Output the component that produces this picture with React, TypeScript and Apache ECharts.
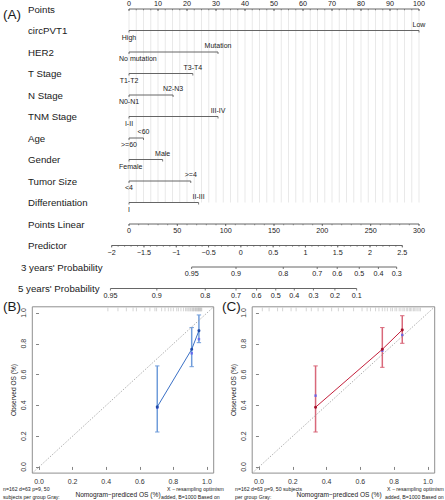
import React, { useEffect, useRef } from "react";
import * as echarts from "echarts";

// ---------------- DATA ----------------
const rowNames = [
  "Points", "circPVT1", "HER2", "T Stage", "N Stage", "TNM Stage", "Age", "Gender",
  "Tumor Size", "Differentiation", "Points Linear", "Predictor",
  "3 years' Probability", "5 years' Probability",
];
const factorLowLevels = ["High", "No mutation", "T1-T2", "N0-N1", "I-II", ">=60", "Female", "<4", "I"];
const factorHighLevels = ["Low", "Mutation", "T3-T4", "N2-N3", "III-IV", "<60", "Male", ">=4", "II-III"];
const factorHighPoints = [100, 30.7, 22, 15.2, 30.7, 5, 11.6, 21.3, 24];

const pointsTicks = [0, 10, 20, 30, 40, 50, 60, 70, 80, 90, 100];
const pointsLinearTicks = [0, 50, 100, 150, 200, 250, 300];
const pointsLinearMax = 300;
const predictorTicks = [-2, -1.5, -1, -0.5, 0, 0.5, 1, 1.5, 2, 2.5];
const predictorZeroAtPoints = 38.57;
const predictorPointsPerUnit = 22.27;
const prob3Labels = ["0.95", "0.9", "0.8", "0.7", "0.6", "0.5", "0.4", "0.3"];
const prob3AtPoints = [21.6, 36.9, 53.2, 64.9, 71.8, 79.4, 86.0, 92.3];
const prob5Labels = ["0.95", "0.9", "0.8", "0.7", "0.6", "0.5", "0.4", "0.3", "0.2", "0.1"];
const prob5AtPoints = [-6.4, 9.6, 26.3, 36.9, 44.0, 50.6, 57.0, 63.6, 71.0, 78.5];

const calTicks = [0, 0.2, 0.4, 0.6, 0.8, 1.0];
const calXTitle = "Nomogram\u2212prediced OS (%)";
const calYTitle = "Observed OS (%)";

const predB = [0.704, 0.909, 0.952];
const obsB = [0.39, 0.764, 0.885];
const lowB = [0.227, 0.651, 0.807];
const highB = [0.656, 0.905, 0.987];
const corrB = [0.385, 0.738, 0.83];
const rugB = [0.41, 0.47, 0.52, 0.56, 0.58, 0.63, 0.66, 0.69, 0.7, 0.73, 0.75, 0.77, 0.785, 0.8, 0.82, 0.83, 0.845,
  0.86, 0.872, 0.88, 0.887, 0.893, 0.9, 0.904, 0.911, 0.915, 0.92, 0.923, 0.929, 0.932, 0.936, 0.94, 0.942, 0.947,
  0.95, 0.952, 0.956, 0.959, 0.962, 0.966, 0.969];

const predC = [0.335, 0.73, 0.848];
const obsC = [0.388, 0.764, 0.89];
const lowC = [0.227, 0.647, 0.803];
const highC = [0.656, 0.905, 0.982];
const corrC = [0.463, 0.755, 0.857];
const rugC = [0.02, 0.06, 0.11, 0.14, 0.19, 0.22, 0.28, 0.31, 0.35, 0.38, 0.43, 0.47, 0.5, 0.56, 0.61, 0.64, 0.66,
  0.69, 0.71, 0.73, 0.745, 0.76, 0.78, 0.79, 0.805, 0.815, 0.83, 0.84, 0.852, 0.86, 0.872, 0.88, 0.89, 0.897, 0.905,
  0.915, 0.922, 0.93, 0.94, 0.948, 0.956];

// ---------------- LAYOUT / STYLE ----------------
const FONT = "'Liberation Sans', Arial, Helvetica, sans-serif";
const INK = "#1a1a1a";
const AXIS = "#555555";
const GRID_LINE = "#e3e3e3";

function fmtNum(v: number): string {
  const s = String(Math.abs(v));
  return v < 0 ? "\u2212" + s : s;
}

type NomoItem =
  | { kind: "grid" }
  | { kind: "rowLabel"; row: number; text: string }
  | { kind: "axis"; row: number; ticks: number[]; labels: string[]; minor: number[]; above: boolean }
  | { kind: "factor"; row: number; end: number; low: string; high: string };

function buildNomoItems(): NomoItem[] {
  const items: NomoItem[] = [{ kind: "grid" }];
  rowNames.forEach((t, i) => items.push({ kind: "rowLabel", row: i, text: t }));
  const ptsMinor: number[] = [];
  for (let p = 0; p <= 100; p += 2.5) ptsMinor.push(p);
  items.push({ kind: "axis", row: 0, ticks: pointsTicks, labels: pointsTicks.map(String), minor: ptsMinor, above: true });
  factorHighPoints.forEach((p, i) =>
    items.push({ kind: "factor", row: i + 1, end: p, low: factorLowLevels[i], high: factorHighLevels[i] })
  );
  const linMinor: number[] = [];
  for (let v = 0; v <= pointsLinearMax; v += 10) linMinor.push((v / pointsLinearMax) * 100);
  items.push({
    kind: "axis", row: 10,
    ticks: pointsLinearTicks.map((v) => (v / pointsLinearMax) * 100),
    labels: pointsLinearTicks.map(String), minor: linMinor, above: false,
  });
  const toPts = (v: number) => predictorZeroAtPoints + predictorPointsPerUnit * v;
  const predMinor: number[] = [];
  for (let k = -20; k <= 25; k++) predMinor.push(toPts(k / 10));
  items.push({ kind: "axis", row: 11, ticks: predictorTicks.map(toPts), labels: predictorTicks.map(fmtNum), minor: predMinor, above: false });
  items.push({ kind: "axis", row: 12, ticks: prob3AtPoints, labels: prob3Labels, minor: [], above: false });
  items.push({ kind: "axis", row: 13, ticks: prob5AtPoints, labels: prob5Labels, minor: [], above: false });
  return items;
}

const nomoItems = buildNomoItems();
const ROW_LABEL_X = [28, 28, 28, 28, 28, 28, 28, 28, 28, 28, 28, 28, 21, 18];

function txt(x: number, y: number, text: string, size: number, align = "center", vAlign = "middle") {
  return {
    type: "text", x, y, silent: true,
    style: { text, fill: INK, fontSize: size, fontFamily: FONT, align, verticalAlign: vAlign },
  };
}
function seg(x1: number, y1: number, x2: number, y2: number, color: string, w: number) {
  return { type: "line", silent: true, shape: { x1, y1, x2, y2 }, style: { stroke: color, lineWidth: w } };
}

function renderNomo(params: any, api: any) {
  const it = nomoItems[params.dataIndex];
  const X = (p: number) => api.coord([p, 0])[0];
  const Y = (r: number) => api.coord([0, r])[1];
  const children: any[] = [];
  if (it.kind === "grid") {
    for (let p = 0; p <= 100; p += 2.5) children.push(seg(X(p), Y(0), X(p), Y(9), GRID_LINE, 0.8));
  } else if (it.kind === "rowLabel") {
    children.push(txt(ROW_LABEL_X[it.row], Y(it.row), it.text, 9.7, "left"));
  } else if (it.kind === "axis") {
    const y = Y(it.row);
    const x0 = X(it.ticks[0]);
    const x1 = X(it.ticks[it.ticks.length - 1]);
    children.push(seg(x0, y, x1, y, AXIS, 0.9));
    it.minor.forEach((p) => children.push(seg(X(p), y, X(p), y + 1.3, AXIS, 0.6)));
    it.ticks.forEach((p, i) => {
      children.push(seg(X(p), y, X(p), y + 2, AXIS, 0.8));
      children.push(txt(X(p), it.above ? y - 6 : y + 6.6, it.labels[i], 7.2));
    });
  } else if (it.kind === "factor") {
    const y = Y(it.row);
    const xs = X(0);
    const xe = X(it.end);
    children.push(seg(xs, y, xe, y, AXIS, 0.9));
    children.push(seg(xs, y, xs, y + 2, AXIS, 0.8));
    children.push(seg(xe, y, xe, y + 2, AXIS, 0.8));
    const w = it.low.length * 3.5;
    const minLeft = xs - 10;
    if (xs - w / 2 < minLeft) children.push(txt(minLeft, y + 6.5, it.low, 7, "left"));
    else children.push(txt(xs, y + 6.5, it.low, 7));
    children.push(txt(xe, y - 6.5, it.high, 7));
  }
  return { type: "group", children };
}

function calAxisX(idx: number) {
  return {
    gridIndex: idx, type: "value", min: -0.04, max: 1.04,
    axisLine: { show: false },
    axisTick: { show: true, customValues: calTicks, length: 3, lineStyle: { color: "#666", width: 0.8 } },
    axisLabel: { customValues: calTicks, formatter: (v: number) => v.toFixed(1), fontSize: 7, color: "#333", margin: 5, fontFamily: FONT },
    splitLine: { show: false },
  };
}
function calAxisY(idx: number) {
  return {
    gridIndex: idx, type: "value", min: -0.04, max: 1.04,
    axisLine: { show: false },
    axisTick: { show: true, customValues: calTicks, length: 3, lineStyle: { color: "#666", width: 0.8 } },
    axisLabel: { customValues: calTicks, formatter: (v: number) => v.toFixed(1), fontSize: 7, color: "#333", margin: 5, rotate: 90, fontFamily: FONT },
    splitLine: { show: false },
  };
}

function calSeries(idx: number, pred: number[], obs: number[], low: number[], high: number[], corr: number[],
  rug: number[], lineColor: string, barColor: string, dotColor: string) {
  return [
    {
      type: "line", xAxisIndex: idx, yAxisIndex: idx, silent: true, symbol: "none",
      data: [[-0.04, -0.04], [1.04, 1.04]],
      lineStyle: { color: "#9c9c9c", width: 0.8, type: [1.5, 1.5] },
    },
    {
      type: "custom", xAxisIndex: idx, yAxisIndex: idx, silent: true,
      data: rug.map((v) => [v, 1.04]), encode: { x: 0, y: 1 },
      renderItem: (p: any, api: any) => {
        const c = api.coord([api.value(0), 1.04]);
        return seg(c[0], c[1] + 0.8, c[0], c[1] + 4.5, "#b8b8b8", 0.6);
      },
    },
    {
      type: "custom", xAxisIndex: idx, yAxisIndex: idx, silent: true,
      data: pred.map((x, i) => [x, low[i], high[i]]), encode: { x: 0, y: 1 },
      renderItem: (p: any, api: any) => {
        const lo = api.coord([api.value(0), api.value(1)]);
        const hi = api.coord([api.value(0), api.value(2)]);
        return {
          type: "group",
          children: [
            seg(lo[0], lo[1], hi[0], hi[1], barColor, 1.5),
            seg(lo[0] - 2.2, lo[1], lo[0] + 2.2, lo[1], barColor, 1),
            seg(hi[0] - 2.2, hi[1], hi[0] + 2.2, hi[1], barColor, 1),
          ],
        };
      },
    },
    {
      type: "line", xAxisIndex: idx, yAxisIndex: idx, silent: true,
      data: pred.map((x, i) => [x, obs[i]]),
      symbol: "circle", symbolSize: 3,
      lineStyle: { color: lineColor, width: 1 }, itemStyle: { color: dotColor },
    },
    {
      type: "scatter", xAxisIndex: idx, yAxisIndex: idx, silent: true,
      data: pred.map((x, i) => [x, corr[i]]),
      symbol: "rect", symbolSize: 2.5, itemStyle: { color: "#5c5cf0" },
    },
  ];
}

function buildOption(): any {
  const small = (x: number, y: number, text: string) => ({
    type: "text", left: x, top: y, silent: true,
    style: { text, fill: INK, fontSize: 5.2, fontFamily: FONT },
  });
  const title = (x: number, y: number, text: string, rot: number) => ({
    type: "text", x, y, rotation: rot, silent: true,
    style: { text, fill: INK, fontSize: 6.6, fontFamily: FONT, align: "center", verticalAlign: "middle" },
  });
  const gridBase = { show: true, borderColor: "#8f8f8f", borderWidth: 1, backgroundColor: "transparent", outerBoundsMode: "none", containLabel: false };
  return {
    animation: false,
    backgroundColor: "#ffffff",
    textStyle: { fontFamily: FONT },
    grid: [
      { left: 100, top: 9, width: 319, height: 279.5, show: false, outerBoundsMode: "none", containLabel: false },
      { ...gridBase, left: 32.3, top: 306.8, width: 181.4, height: 166.3 },
      { ...gridBase, left: 252.2, top: 306.8, width: 182.5, height: 166.3 },
    ],
    xAxis: [{ gridIndex: 0, type: "value", min: -10, max: 100, show: false }, calAxisX(1), calAxisX(2)],
    yAxis: [{ gridIndex: 0, type: "value", min: 0, max: 13, inverse: true, show: false }, calAxisY(1), calAxisY(2)],
    series: [
      {
        type: "custom", xAxisIndex: 0, yAxisIndex: 0, silent: true, clip: false,
        data: nomoItems.map(() => [0, 0]), encode: { x: 0, y: 1 },
        renderItem: renderNomo,
      },
      ...calSeries(1, predB, obsB, lowB, highB, corrB, rugB, "#3a70c6", "#6f9cda", "#1f4aa8"),
      ...calSeries(2, predC, obsC, lowC, highC, corrC, rugC, "#c4203c", "#d9687a", "#a3102a"),
    ],
    graphic: [
      { type: "text", left: 3, top: 7, silent: true, style: { text: "(A)", fill: INK, fontSize: 13.5, fontFamily: FONT } },
      { type: "text", left: 3, top: 299, silent: true, style: { text: "(B)", fill: INK, fontSize: 13.5, fontFamily: FONT } },
      { type: "text", left: 222, top: 299, silent: true, style: { text: "(C)", fill: INK, fontSize: 13.5, fontFamily: FONT } },
      title(118, 494.5, calXTitle, 0),
      title(339, 494.5, calXTitle, 0),
      title(13, 390, calYTitle, Math.PI / 2),
      title(233, 390, calYTitle, Math.PI / 2),
      small(3, 486, "n=162 d=63 p=9, 50"),
      small(3, 494, "subjects per group Gray:"),
      small(167, 486, "X \u2212 resampling optimism"),
      small(161, 494, "added, B=1000 Based on"),
      small(235, 486, "n=162 d=63 p=9, 50 subjects"),
      small(235, 494, "per group Gray:"),
      small(387, 486, "X \u2212 resampling optimism"),
      small(385, 494, "added, B=1000 Based on"),
    ],
  };
}

export default function App() {
  const ref = useRef<HTMLDivElement>(null);
  useEffect(() => {
    if (!ref.current) return;
    const chart = echarts.init(ref.current, undefined, { renderer: "svg" });
    chart.setOption(buildOption());
    return () => chart.dispose();
  }, []);
  return (
    <div
      ref={ref}
      style={{ position: "fixed", left: 0, top: 0, width: 445, height: 500, background: "#fff" }}
    />
  );
}
